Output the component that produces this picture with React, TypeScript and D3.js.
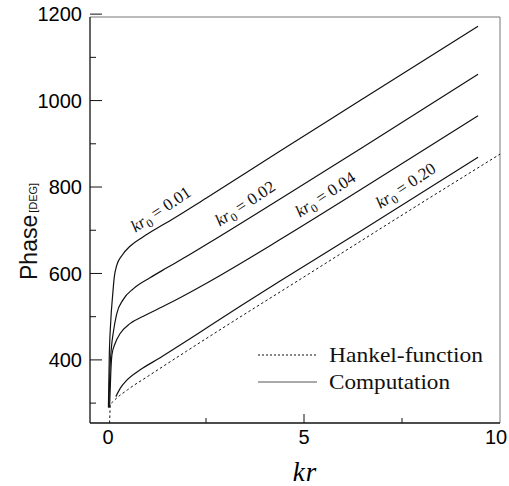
import React, { useEffect, useRef } from "react";
import * as d3 from "d3";

// phase [deg] against kr
const kr001: [number, number][] = [
  [0.01, 290], [0.03, 400], [0.07, 490], [0.12, 552], [0.16, 592], [0.22, 618],
  [0.35, 641], [0.56, 663], [0.9, 685], [1.24, 704], [1.58, 722], [2.5, 774],
  [4.4, 884], [6.5, 1004], [9.44, 1172],
];
const kr002: [number, number][] = [
  [0.02, 290], [0.05, 380], [0.09, 432], [0.135, 464], [0.22, 506], [0.39, 540],
  [0.65, 565], [1.07, 590], [1.5, 613], [1.92, 635], [2.58, 671], [4.4, 773],
  [6.5, 892], [9.44, 1061],
];
const kr004: [number, number][] = [
  [0.04, 290], [0.07, 370], [0.1, 412], [0.18, 438], [0.31, 461], [0.56, 484],
  [0.9, 501], [1.5, 528], [1.92, 548], [2.58, 581], [4.4, 679], [6.5, 797],
  [9.44, 965],
];
const kr020: [number, number][] = [
  [0.2, 315], [0.31, 334], [0.48, 353], [0.82, 377], [1.33, 405], [1.92, 439],
  [2.58, 478], [3.37, 524], [4.4, 583], [6.5, 701], [9.44, 869],
];
const hankel: [number, number][] = [
  [0.04, 254], [0.06, 296], [0.135, 304], [0.5, 331], [1, 361], [2, 420],
  [3, 478], [5, 592], [7.5, 735], [10, 876],
];

const computed = [kr001, kr002, kr004, kr020];
const curveNames = ["0.01", "0.02", "0.04", "0.20"];

const xTicks = [0, 5, 10];
const xMinorTicks = [2.5, 7.5];
const yTicks = [400, 600, 800, 1000, 1200];
const yMinorTicks = [300, 500, 700, 900, 1100];
const legendNames = ["Hankel-function", "Computation"];

const W = 509;
const H = 486;

// where the curve labels sit along each line (kr)
const labelAt = [1.55, 3.7, 5.75, 7.8];
const legendWidths = [154, 121];

function valueAt(series: [number, number][], kr: number) {
  for (let i = 1; i < series.length; i++) {
    const [x0, y0] = series[i - 1];
    const [x1, y1] = series[i];
    if (kr <= x1) return y0 + ((kr - x0) / (x1 - x0)) * (y1 - y0);
  }
  return series[series.length - 1][1];
}

const App = () => {
  const svgRef = useRef<SVGSVGElement>(null);

  useEffect(() => {
    const svg = d3.select(svgRef.current);
    svg.selectAll("*").remove();

    const left = 90, right = 500, top = 15, bottom = 423;
    const x = d3.scaleLinear().domain([-0.46, 10]).range([left, right]);
    const y = d3.scaleLinear().domain([254, 1198]).range([bottom, top]);

    svg.append("defs").append("clipPath").attr("id", "plot")
      .append("rect").attr("x", left).attr("y", top)
      .attr("width", right - left).attr("height", bottom - top);

    // frame
    svg.append("line").attr("x1", right).attr("x2", right).attr("y1", top + 2).attr("y2", bottom)
      .attr("stroke", "#777").attr("stroke-width", 1);
    svg.append("line").attr("x1", left).attr("x2", right).attr("y1", top + 2).attr("y2", top + 2)
      .attr("stroke", "#777").attr("stroke-width", 1);
    svg.append("line").attr("x1", left).attr("x2", left).attr("y1", top + 2).attr("y2", bottom)
      .attr("stroke", "#111").attr("stroke-width", 1.3);
    svg.append("line").attr("x1", left).attr("x2", right).attr("y1", bottom).attr("y2", bottom)
      .attr("stroke", "#111").attr("stroke-width", 1.3);

    // ticks
    const g = svg.append("g").attr("stroke", "#111").attr("stroke-width", 1);
    yTicks.forEach((t) => g.append("line").attr("x1", left).attr("x2", left + 12)
      .attr("y1", y(t)).attr("y2", y(t)));
    yMinorTicks.forEach((t) => g.append("line").attr("x1", left).attr("x2", left + 6)
      .attr("y1", y(t)).attr("y2", y(t)));
    xTicks.filter((t) => t > 0 && t < 10).forEach((t) => g.append("line")
      .attr("x1", x(t)).attr("x2", x(t)).attr("y1", bottom).attr("y2", bottom - 9));
    xMinorTicks.forEach((t) => g.append("line")
      .attr("x1", x(t)).attr("x2", x(t)).attr("y1", bottom).attr("y2", bottom - 5));

    const sans = "'Liberation Sans', Arial, sans-serif";
    const serif = "'Liberation Serif', 'Times New Roman', serif";

    svg.selectAll(".ylab").data(yTicks).enter().append("text")
      .attr("x", 82).attr("y", (d) => y(d)).attr("dy", "0.36em")
      .attr("text-anchor", "end").attr("font-family", sans).attr("font-size", 20)
      .text((d) => d);
    svg.selectAll(".xlab").data(xTicks).enter().append("text")
      .attr("x", (d) => (d === 10 ? x(d) - 4 : x(d))).attr("y", 444)
      .attr("text-anchor", "middle").attr("font-family", sans).attr("font-size", 20)
      .text((d) => d);

    svg.append("text").attr("x", 305).attr("y", 481).attr("text-anchor", "middle")
      .attr("font-family", serif).attr("font-style", "italic").attr("font-size", 27)
      .attr("letter-spacing", 1).text("kr");

    const yl = svg.append("text").attr("transform", "translate(37,280) rotate(-90)")
      .attr("font-family", sans).attr("fill", "#111");
    yl.append("tspan").attr("font-size", 23).text("Phase");
    yl.append("tspan").attr("font-size", 11).attr("dx", 2).text("[DEG]");

    // curves
    const line = d3.line<[number, number]>()
      .x((d) => x(d[0])).y((d) => y(d[1])).curve(d3.curveMonotoneX);
    const plot = svg.append("g").attr("clip-path", "url(#plot)");
    plot.append("path").attr("d", line(hankel)).attr("fill", "none")
      .attr("stroke", "#111").attr("stroke-width", 1).attr("stroke-dasharray", "2.5,2.5");
    computed.forEach((s) => plot.append("path").attr("d", line(s)).attr("fill", "none")
      .attr("stroke", "#111").attr("stroke-width", 1.2));

    // curve labels
    computed.forEach((s, i) => {
      const k = labelAt[i];
      const px = x(k), py = y(valueAt(s, k));
      const dy = y(valueAt(s, k + 1)) - py;
      const dx = x(k + 1) - px;
      const ang = (Math.atan2(dy, dx) * 180) / Math.PI - 1.5;
      const t = svg.append("text")
        .attr("transform", `translate(${px},${py}) rotate(${ang}) translate(0,-9)`)
        .attr("text-anchor", "middle").attr("font-family", serif).attr("font-size", 17)
        .attr("fill", "#111");
      t.append("tspan").attr("font-style", "italic").text("kr");
      t.append("tspan").attr("font-size", 12).attr("dy", 4).text("0");
      t.append("tspan").attr("dy", -4).text(` = ${curveNames[i]}`);
    });

    // legend
    const lg = svg.append("g");
    legendNames.forEach((name, i) => {
      const ly = 355 + i * 27;
      lg.append("line").attr("x1", 258).attr("x2", 317).attr("y1", ly).attr("y2", ly)
        .attr("stroke", i === 0 ? "#111" : "#555").attr("stroke-width", 1)
        .attr("stroke-dasharray", i === 0 ? "2,2" : null);
      lg.append("text").attr("x", 329).attr("y", ly).attr("dy", "0.33em")
        .attr("font-family", serif).attr("font-size", 21).attr("fill", "#111")
        .attr("textLength", legendWidths[i]).attr("lengthAdjust", "spacingAndGlyphs")
        .text(name);
    });
  }, []);

  return (
    <svg ref={svgRef} width={W} height={H}
      style={{ position: "absolute", left: 0, top: 0, background: "#fff" }} />
  );
};

export default App;
